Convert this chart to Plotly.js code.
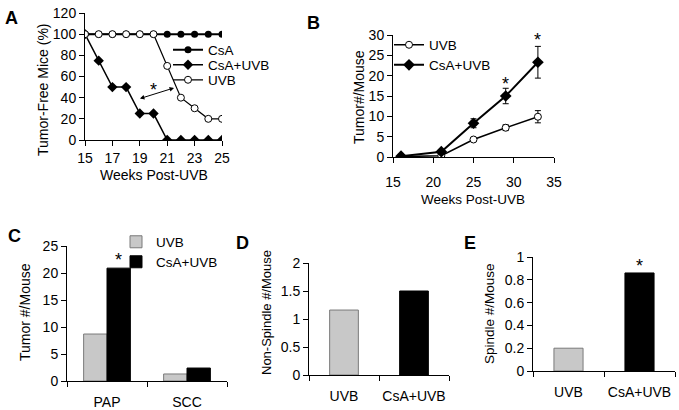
<!DOCTYPE html>
<html>
<head>
<meta charset="utf-8">
<script src="https://cdn.plot.ly/plotly-3.0.1.min.js"></script>
<style>html,body{margin:0;padding:0;background:#fff;}#chart{width:679px;height:410px;}</style>
</head>
<body>
<div id="chart"></div>
<script>
// ---- Data ----
var weeksA = [15, 16, 17, 18, 19, 20, 21, 22, 23, 24, 25];
var csaA = [100, 100, 100, 100, 100, 100, 100, 100, 100, 100, 100];
var csaUvbA = [100, 75, 50, 50, 25, 25, 0, 0, 0, 0, 0];
var uvbA = [100, 100, 100, 100, 100, 100, 70, 40, 30, 20, 20];

var weeksB = [16, 21, 25, 29, 33];
var uvbB = [0.1, 0.3, 4.3, 7.2, 9.9];
var uvbBErr = [0.1, 0.2, 0.3, 0.7, 1.5];
var csaUvbB = [0.2, 1.3, 8.3, 15.0, 23.3];
var csaUvbBErr = [0.1, 0.3, 1.1, 1.9, 3.9];

var tumorTypes = ['PAP', 'SCC'];
var uvbC = [8.7, 1.3];
var csaUvbC = [20.9, 2.4];

var groups = ['UVB', 'CsA+UVB'];
var nonSpindle = [1.16, 1.5];
var spindle = [0.2, 0.86];

var seriesNames = ['CsA', 'CsA+UVB', 'UVB'];
var barColors = ['#c8c8c8', '#000000'];
var barLines = ['#7a7a7a', '#000000'];

// ---- helpers ----
var W = 679, H = 410;
function px(a, b) { return [a / W, b / W]; }
function py(top, bottom) { return [1 - bottom / H, 1 - top / H]; }
var FONT = 'Liberation Sans, Arial, sans-serif';

function axisBase(extra) {
  var o = {
    showline: true, linecolor: '#000', linewidth: 1,
    showgrid: false, zeroline: false,
    ticks: 'outside', ticklen: 5, tickcolor: '#000', tickwidth: 1,
    tickfont: {family: FONT, size: 14, color: '#000'},
    tickangle: 0,
    fixedrange: true, automargin: false
  };
  for (var k in extra) o[k] = extra[k];
  return o;
}

var traces = [
  // Panel A
  {x: weeksA, y: csaA, name: seriesNames[0], type: 'scatter', mode: 'lines+markers',
   line: {color: '#000', width: 2}, marker: {symbol: 'circle', size: 7, color: '#000'},
   xaxis: 'x', yaxis: 'y', legend: 'legend'},
  {x: weeksA, y: csaUvbA, name: seriesNames[1], type: 'scatter', mode: 'lines+markers',
   line: {color: '#000', width: 1.5}, marker: {symbol: 'diamond', size: 8, color: '#000'},
   xaxis: 'x', yaxis: 'y', legend: 'legend2'},
  {x: weeksA, y: uvbA, name: seriesNames[2], type: 'scatter', mode: 'lines+markers',
   line: {color: '#000', width: 1.2}, marker: {symbol: 'circle', size: 7, color: '#fff', line: {color: '#000', width: 1}},
   xaxis: 'x', yaxis: 'y', legend: 'legend3'},
  // Panel B
  {x: weeksB, y: uvbB, name: 'UVB', type: 'scatter', mode: 'lines+markers',
   error_y: {type: 'data', array: uvbBErr, visible: true, color: '#000', thickness: 1, width: 3},
   line: {color: '#000', width: 1.5}, marker: {symbol: 'circle', size: 7, color: '#fff', line: {color: '#000', width: 1}},
   xaxis: 'x2', yaxis: 'y2', legend: 'legend4'},
  {x: weeksB, y: csaUvbB, name: 'CsA+UVB', type: 'scatter', mode: 'lines+markers',
   error_y: {type: 'data', array: csaUvbBErr, visible: true, color: '#000', thickness: 1, width: 3},
   line: {color: '#000', width: 2}, marker: {symbol: 'diamond', size: 9, color: '#000'},
   xaxis: 'x2', yaxis: 'y2', legend: 'legend5'},
  // Panel C
  {x: tumorTypes, y: uvbC, name: 'UVB', type: 'bar',
   marker: {color: barColors[0], line: {color: barLines[0], width: 1}},
   xaxis: 'x3', yaxis: 'y3', legend: 'legend6'},
  {x: tumorTypes, y: csaUvbC, name: 'CsA+UVB', type: 'bar',
   marker: {color: barColors[1], line: {color: barLines[1], width: 1}},
   xaxis: 'x3', yaxis: 'y3', legend: 'legend7'},
  // Panel D
  {x: groups, y: nonSpindle, type: 'bar', width: 0.41, showlegend: false,
   marker: {color: barColors, line: {color: barLines, width: 1}},
   xaxis: 'x4', yaxis: 'y4'},
  // Panel E
  {x: groups, y: spindle, type: 'bar', width: 0.41, showlegend: false,
   marker: {color: barColors, line: {color: barLines, width: 1}},
   xaxis: 'x5', yaxis: 'y5'}
];

function ann(text, x, y, size, extra) {
  var o = {text: text, x: x, y: y, xref: 'paper', yref: 'paper', showarrow: false,
    xanchor: 'center', yanchor: 'middle', font: {family: FONT, size: size, color: '#000'}};
  for (var k in extra) o[k] = extra[k];
  return o;
}
function P(xp, yp) { return [xp / W, 1 - yp / H]; }

var annotations = [];
function addAnn(text, xp, yp, size, extra) {
  var p = P(xp, yp);
  annotations.push(ann(text, p[0], p[1], size, extra));
}
// panel letters
addAnn('<b>A</b>', 11, 18, 18);
addAnn('<b>B</b>', 313, 23, 18);
addAnn('<b>C</b>', 14, 236, 18);
addAnn('<b>D</b>', 242, 243, 18);
addAnn('<b>E</b>', 470, 243, 18);
// axis titles
addAnn('Weeks Post-UVB', 154, 175, 14);
addAnn('Tumor-Free Mice (%)', 43, 90, 14, {textangle: -90});
addAnn('Weeks Post-UVB', 473, 199, 13.5);
addAnn('Tumor#/Mouse', 359, 97, 14, {textangle: -90});
addAnn('Tumor #/Mouse', 25, 312, 14, {textangle: -90});
addAnn('Non-Spindle #/Mouse', 266, 313, 13, {textangle: -90});
addAnn('Spindle #/Mouse', 489, 314, 13.5, {textangle: -90});

// asterisks in data coordinates
annotations.push({text: '*', x: 20.0, y: 47.5, xref: 'x', yref: 'y', showarrow: false, font: {family: FONT, size: 18, color: '#000'}});
annotations.push({text: '*', x: 29, y: 18.0, xref: 'x2', yref: 'y2', showarrow: false, font: {family: FONT, size: 18, color: '#000'}});
annotations.push({text: '*', x: 33, y: 28.7, xref: 'x2', yref: 'y2', showarrow: false, font: {family: FONT, size: 18, color: '#000'}});
annotations.push({text: '*', x: 'PAP', xshift: 11.5, y: 22.4, xref: 'x3', yref: 'y3', showarrow: false, font: {family: FONT, size: 18, color: '#000'}});
annotations.push({text: '*', x: 'CsA+UVB', y: 0.92, xref: 'x5', yref: 'y5', showarrow: false, font: {family: FONT, size: 18, color: '#000'}});
// double-headed arrow in panel A
annotations.push({x: 21.5, y: 49.2, ax: 18.9, ay: 38.7, xref: 'x', yref: 'y', axref: 'x', ayref: 'y',
  text: '', showarrow: true, arrowhead: 2, startarrowhead: 2, arrowside: 'end+start', arrowsize: 0.9, startarrowsize: 0.9,
  arrowwidth: 1, arrowcolor: '#000', standoff: 0, startstandoff: 0});

var legendFont = {family: FONT, size: 13.5, color: '#000'};
function leg(xp, yp) {
  return {x: xp / W, y: 1 - yp / H, xanchor: 'left', yanchor: 'middle', bgcolor: 'rgba(0,0,0,0)',
    font: legendFont, tracegroupgap: 0, itemwidth: 30};
}
var layout = {
  width: W, height: H,
  margin: {l: 0, r: 0, t: 0, b: 0},
  paper_bgcolor: '#fff', plot_bgcolor: 'rgba(0,0,0,0)',
  font: {family: FONT, size: 14, color: '#000'},
  barmode: 'group', bargap: 0.416, bargroupgap: 0,
  showlegend: true,
  xaxis: axisBase({domain: px(85, 222), range: [15, 25], tickvals: [15, 17, 19, 21, 23, 25], anchor: 'y'}),
  yaxis: axisBase({domain: py(13, 140), range: [0, 120], dtick: 20, anchor: 'x'}),
  xaxis2: axisBase({domain: px(393, 554), range: [15, 35], dtick: 5, anchor: 'y2', ticklabelstandoff: 7}),
  yaxis2: axisBase({domain: py(35, 157), range: [0, 30], dtick: 5, anchor: 'x2'}),
  xaxis3: axisBase({domain: px(67, 227), range: [-0.5, 1.5], type: 'category', tickson: 'boundaries', anchor: 'y3', ticklabelstandoff: 8}),
  yaxis3: axisBase({domain: py(246, 381), range: [0, 25], dtick: 5, anchor: 'x3'}),
  xaxis4: axisBase({domain: px(309, 449), range: [-0.5, 1.5], type: 'category', tickson: 'boundaries', anchor: 'y4', ticklabelstandoff: 8}),
  yaxis4: axisBase({domain: py(263, 375), range: [0, 2], dtick: 0.5, anchor: 'x4'}),
  xaxis5: axisBase({domain: px(533, 675), range: [-0.5, 1.5], type: 'category', tickson: 'boundaries', anchor: 'y5', ticklabelstandoff: 8}),
  yaxis5: axisBase({domain: py(257, 371), range: [0, 1], dtick: 0.2, anchor: 'x5'}),
  legend: leg(168, 50),
  legend2: leg(168, 65),
  legend3: leg(168, 80),
  legend4: leg(389, 45),
  legend5: leg(389, 65),
  legend6: leg(116, 242),
  legend7: leg(116, 262),
  annotations: annotations
};

Plotly.newPlot('chart', traces, layout, {staticPlot: true, displayModeBar: false});
</script>
</body>
</html>
